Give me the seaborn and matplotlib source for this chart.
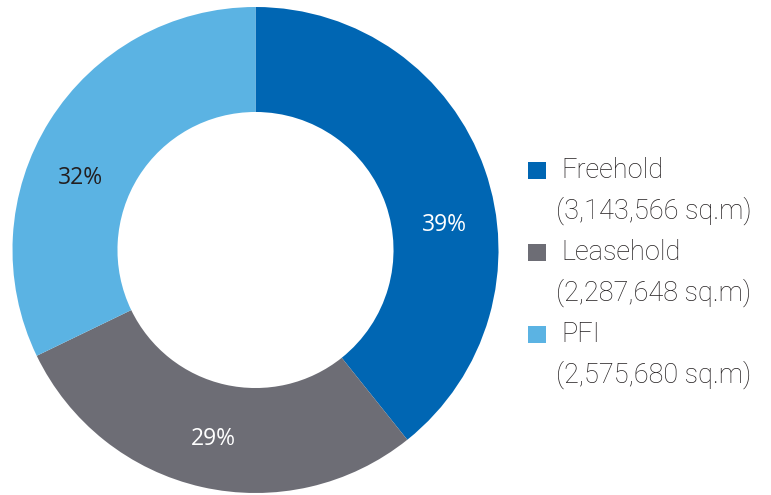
import matplotlib
matplotlib.use("Agg")
import matplotlib.pyplot as plt
from matplotlib.patches import Rectangle
import numpy as np
import seaborn as sns

sns.set_theme(style="white")
plt.rcParams["font.family"] = ["Roboto", "DejaVu Sans"]

# Floor area by tenure
categories = ["Freehold", "Leasehold", "PFI"]
areas_sqm = [3143566, 2287648, 2575680]
area_labels = ["(3,143,566 sq.m)", "(2,287,648 sq.m)", "(2,575,680 sq.m)"]
colors = ["#0066b3", "#6d6d75", "#5bb3e3"]
pct_colors = ["white", "white", "#231f20"]
# angular nudge (degrees) of each percentage label from its wedge centre
label_nudge = [-11.0, 0.0, 9.0]

W, H = 771, 495
fig = plt.figure(figsize=(W / 100, H / 100), dpi=100)
cx, cy, r = 255.5, 250, 243
ax = fig.add_axes([(cx - r) / W, (H - cy - r) / H, 2 * r / W, 2 * r / H])

wedges, _ = ax.pie(
    areas_sqm,
    colors=colors,
    startangle=90,
    counterclock=False,
    radius=1.0,
    wedgeprops=dict(width=0.432, linewidth=0),
)
ax.set_xlim(-1, 1)
ax.set_ylim(-1, 1)
ax.set_aspect("equal")
ax.axis("off")

total = sum(areas_sqm)
for w, v, c, nudge in zip(wedges, areas_sqm, pct_colors, label_nudge):
    mid = np.deg2rad((w.theta1 + w.theta2) / 2 + nudge)
    d = 0.785
    ax.text(d * np.cos(mid), d * np.sin(mid), f"{round(100 * v / total)}%",
            ha="center", va="center_baseline", fontsize=16.5, color=c,
            family=["Open Sans", "DejaVu Sans"])

# legend built from squares and two-line captions
for i, (name, sub, col) in enumerate(zip(categories, area_labels, colors)):
    y = 170.5 + i * 82
    fig.patches.append(Rectangle((528 / W, (H - y - 8.5) / H), 18 / W, 17 / H,
                                 transform=fig.transFigure, facecolor=col,
                                 edgecolor="none"))
    fig.text(561 / W, (H - y) / H, name, ha="left", va="center",
             fontsize=19.5, color="#231f20", fontweight="light")
    fig.text(556 / W, (H - y - 40) / H, sub, ha="left", va="center",
             fontsize=19.5, color="#231f20", fontweight="light")

fig.savefig("out.png", dpi=100)
